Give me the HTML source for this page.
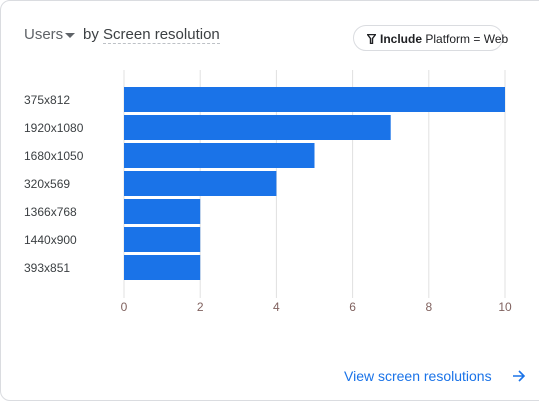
<!DOCTYPE html>
<html><head><meta charset="utf-8"><style>
body{margin:0;width:539px;height:401px;background:#fff;font-family:"Liberation Sans",sans-serif;overflow:hidden;position:relative}
.card{position:absolute;left:0;top:0;width:560px;height:401px;border:1px solid #dadce0;border-radius:10px;box-sizing:border-box}
.t{position:absolute;color:#3c4043}
</style></head><body>
<div class="card"></div>
<div class="t" style="left:24px;top:26px;font-size:15px;color:#5f6368">Users</div>
<div style="position:absolute;left:65px;top:33px;width:0;height:0;border-left:5px solid transparent;border-right:5px solid transparent;border-top:5px solid #5f6368"></div>
<div class="t" style="left:83px;top:26px;font-size:15px;color:#3c4043">by <span style="border-bottom:1px dashed #bdc1c6">Screen resolution</span></div>
<div style="position:absolute;left:353px;top:25px;width:150px;height:26px;border:1px solid #dadce0;border-radius:14px;font-size:12px;color:#202124;line-height:26px;box-sizing:border-box;padding-left:13px;white-space:nowrap"><svg width="9" height="10" style="vertical-align:-1px;margin-right:4px"><path d="M0.5 0.5H8.5L5.5 4.5V9.5H3.5V4.5Z" fill="none" stroke="#202124" stroke-width="1.4"/></svg><b>Include</b> Platform = Web</div>
<svg id="chart" width="539" height="401" style="position:absolute;left:0;top:0"></svg>
<div style="position:absolute;left:344px;top:368px;font-size:14px;color:#1a73e8;white-space:nowrap">View screen resolutions</div>
<svg width="14" height="14" style="position:absolute;left:512px;top:369px"><path d="M1 7H12M7 2L12 7L7 12" fill="none" stroke="#1a73e8" stroke-width="1.6"/></svg>
<script>
const categories=["375x812","1920x1080","1680x1050","320x569","1366x768","1440x900","393x851"];
const values=[10,7,5,4,2,2,2];
const ticks=[0,2,4,6,8,10];
const ns="http://www.w3.org/2000/svg",svg=document.getElementById('chart');
const x=v=>124+v*38.1, y=i=>87+i*28;
function mk(t,a){const e=document.createElementNS(ns,t);for(const k in a)e.setAttribute(k,a[k]);svg.appendChild(e);return e;}
ticks.forEach(t=>{
 const g=mk('line',{x1:x(t),x2:x(t),y1:70,y2:298,stroke:'#e0e0e0','stroke-width':1});
 
 
 const l=mk('text',{x:x(t),y:311,'text-anchor':'middle','font-size':12,fill:'#80625f'});
 l.textContent=t;
 
 
});
categories.forEach((c,i)=>{
 const r=mk('rect',{x:x(0),y:y(i),width:x(values[i])-x(0),height:25,fill:'#1a73e8'});
 
 
 const l=mk('text',{x:24,y:y(i)+17,'font-size':12,fill:'#3c4043'});
 l.textContent=c;
 
 
});
</script>
</body></html>
